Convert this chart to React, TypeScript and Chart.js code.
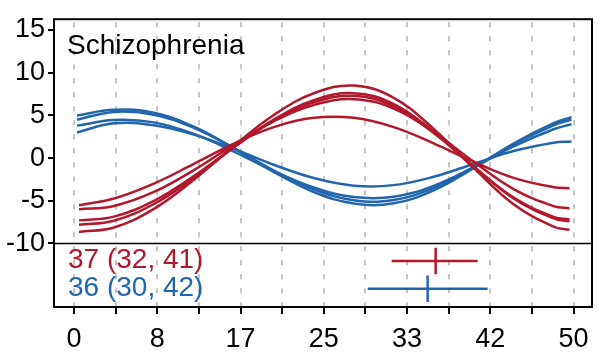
import React, { useEffect, useRef } from "react";
import { Chart, registerables } from "chart.js";

Chart.register(...registerables);

const RED = "#B2182B";
const BLUE = "#2166AC";
const FONT_FAMILY = '"Liberation Sans", Arial, Helvetica, sans-serif';

// ---- data ----
const panelTitle = "Schizophrenia";

const xTickValues = [0, 4.17, 8.33, 12.5, 16.67, 20.83, 25, 29.17, 33.33, 37.5, 41.67, 45.83, 50];
const xTickLabels = ["0", "", "8", "", "17", "", "25", "", "33", "", "42", "", "50"];
const yTickValues = [-10, -5, 0, 5, 10, 15];

const redX = [0.5, 4, 8, 12, 16, 20, 24, 28, 32, 36, 40, 44, 48, 49.6];
const red1 = [-5.52, -4.74, -2.99, -0.68, 1.69, 3.63, 4.71, 4.71, 3.62, 1.73, -0.43, -2.32, -3.41, -3.53];
const red2 = [-6.0, -5.61, -3.97, -1.41, 1.57, 4.31, 6.22, 6.9, 5.81, 3.05, -0.42, -3.64, -5.63, -5.9];
const red3 = [-7.3, -6.86, -5.01, -2.1, 1.27, 4.37, 6.53, 7.3, 6.06, 2.94, -0.99, -4.63, -6.89, -7.2];
const red4 = [-7.8, -7.34, -5.38, -2.32, 1.24, 4.5, 6.78, 7.6, 6.32, 3.09, -0.98, -4.74, -7.07, -7.42];
const red5 = [-8.65, -8.14, -5.96, -2.54, 1.42, 5.05, 7.59, 8.5, 7.06, 3.42, -1.16, -5.4, -8.03, -8.4];

const blueX = [0.3, 4, 8, 12, 16, 20, 24, 28, 32, 36, 40, 44, 48, 49.8];
const blue1 = [5.0, 5.65, 5.31, 3.67, 1.15, -1.63, -3.98, -5.32, -5.3, -3.78, -1.19, 1.71, 4.09, 4.79];
const blue2 = [4.5, 5.41, 5.08, 3.54, 1.17, -1.46, -3.67, -4.93, -4.91, -3.5, -1.08, 1.62, 3.84, 4.5];
const blue3 = [3.8, 4.46, 4.18, 2.83, 0.76, -1.53, -3.45, -4.56, -4.53, -3.25, -1.07, 1.37, 3.38, 3.97];
const blue4 = [3.0, 4.07, 3.84, 2.75, 1.08, -0.78, -2.34, -3.23, -3.17, -2.19, -0.69, 0.82, 1.8, 1.93];

const summaryLabels = ["37 (32, 41)", "36 (30, 42)"];
const summaryColors = [RED, BLUE];
const summaryCenter = [36.2, 35.4];
const summaryLower = [31.8, 29.4];
const summaryUpper = [40.4, 41.4];
const summaryRowY = [-12.05, -15.3];

const X_MIN = -2.0;
const X_MAX = 51.85;
const Y_MIN = -17.45;
const Y_MAX = 16.27;
const DIVIDER_Y = -10;
const CAP_HALF = 1.55;

const toPoints = (xs: number[], ys: number[]) => ys.map((y, i) => ({ x: xs[i], y }));

const curve = (xs: number[], ys: number[], color: string) => ({
  data: toPoints(xs, ys),
  borderColor: color,
  backgroundColor: color,
  borderWidth: 2.5,
  pointRadius: 0,
  fill: false,
  tension: 0.4,
});

const segment = (pts: { x: number; y: number }[], color: string) => ({
  data: pts,
  borderColor: color,
  backgroundColor: color,
  borderWidth: 2.5,
  pointRadius: 0,
  fill: false,
  tension: 0,
});

const decorPlugin = {
  id: "decor",
  beforeDatasetsDraw(chart: any) {
    const { ctx, chartArea, scales } = chart;
    const xs = scales.x;
    ctx.save();
    ctx.strokeStyle = "#c4c4c4";
    ctx.lineWidth = 2;
    ctx.setLineDash([5, 9]);
    ctx.lineDashOffset = 11;
    xTickValues.forEach((v) => {
      const px = Math.round(xs.getPixelForValue(v));
      ctx.beginPath();
      ctx.moveTo(px, chartArea.top);
      ctx.lineTo(px, chartArea.bottom);
      ctx.stroke();
    });
    ctx.restore();
  },
  afterDatasetsDraw(chart: any) {
    const { ctx, chartArea, scales } = chart;
    const ys = scales.y;
    ctx.save();
    const dy = ys.getPixelForValue(DIVIDER_Y);
    ctx.strokeStyle = "#000";
    ctx.lineWidth = 1.5;
    ctx.beginPath();
    ctx.moveTo(chartArea.left, dy);
    ctx.lineTo(chartArea.right, dy);
    ctx.stroke();
    ctx.lineWidth = 2;
    ctx.strokeRect(chartArea.left, chartArea.top, chartArea.right - chartArea.left, chartArea.bottom - chartArea.top);
    ctx.fillStyle = "#000";
    ctx.font = `28px ${FONT_FAMILY}`;
    ctx.textAlign = "left";
    ctx.textBaseline = "alphabetic";
    ctx.fillText(panelTitle, chartArea.left + 13, chartArea.top + 35);
    summaryLabels.forEach((t, i) => {
      ctx.fillStyle = summaryColors[i];
      ctx.fillText(t, chartArea.left + 14, ys.getPixelForValue(summaryRowY[i]) + 7);
    });
    ctx.restore();
  },
};

export default function App() {
  const canvasRef = useRef<HTMLCanvasElement | null>(null);

  useEffect(() => {
    if (!canvasRef.current) return;
    const datasets: any[] = [
      curve(redX, red1, RED),
      curve(redX, red2, RED),
      curve(redX, red3, RED),
      curve(redX, red4, RED),
      curve(redX, red5, RED),
      curve(blueX, blue1, BLUE),
      curve(blueX, blue2, BLUE),
      curve(blueX, blue3, BLUE),
      curve(blueX, blue4, BLUE),
    ];
    summaryLabels.forEach((_, i) => {
      const c = summaryColors[i];
      datasets.push(
        segment(
          [
            { x: summaryLower[i], y: summaryRowY[i] },
            { x: summaryUpper[i], y: summaryRowY[i] },
          ],
          c
        )
      );
      datasets.push(
        segment(
          [
            { x: summaryCenter[i], y: summaryRowY[i] - CAP_HALF },
            { x: summaryCenter[i], y: summaryRowY[i] + CAP_HALF },
          ],
          c
        )
      );
    });

    const chart = new Chart(canvasRef.current, {
      type: "line",
      data: { datasets },
      options: {
        animation: false,
        responsive: false,
        devicePixelRatio: 1,
        layout: { padding: { top: 15, right: 16, left: 0, bottom: 0 } },
        plugins: { legend: { display: false }, tooltip: { enabled: false }, title: { display: false } },
        scales: {
          x: {
            type: "linear",
            min: X_MIN,
            max: X_MAX,
            afterBuildTicks: (s: any) => {
              s.ticks = xTickValues.map((v) => ({ value: v }));
            },
            afterFit: (s: any) => {
              s.height = 48;
            },
            ticks: {
              autoSkip: false,
              maxRotation: 0,
              minRotation: 0,
              color: "#000",
              padding: 9,
              font: { size: 27, family: FONT_FAMILY },
              callback: (_v: any, i: number) => xTickLabels[i],
            },
            grid: { drawOnChartArea: false, drawTicks: true, tickLength: 7, color: "#000", lineWidth: 2 },
            border: { display: false },
          },
          y: {
            type: "linear",
            min: Y_MIN,
            max: Y_MAX,
            afterBuildTicks: (s: any) => {
              s.ticks = yTickValues.map((v) => ({ value: v }));
            },
            afterFit: (s: any) => {
              s.width = 54;
            },
            ticks: {
              color: "#000",
              padding: 3,
              font: { size: 27, family: FONT_FAMILY },
              callback: (v: any) => String(v),
            },
            grid: { drawOnChartArea: false, drawTicks: true, tickLength: 6, color: "#000", lineWidth: 2 },
            border: { display: false },
          },
        },
      },
      plugins: [decorPlugin],
    });
    return () => chart.destroy();
  }, []);

  return (
    <div style={{ position: "fixed", left: 0, top: 0, width: 608, height: 355, background: "#fff" }}>
      <canvas ref={canvasRef} width={608} height={355} style={{ display: "block" }} />
    </div>
  );
}
